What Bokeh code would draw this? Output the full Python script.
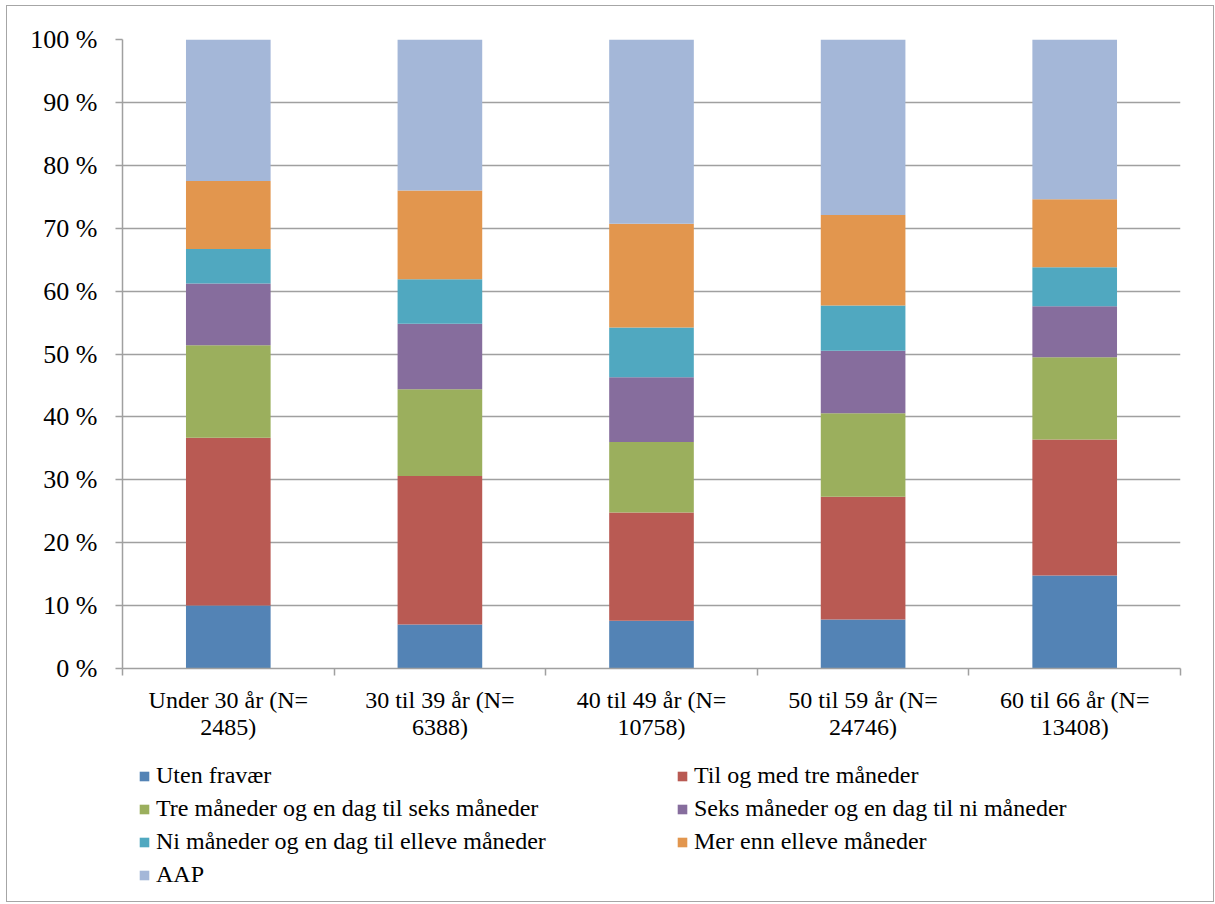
from bokeh.plotting import figure
from bokeh.models import FixedTicker, Legend, LegendItem
from bokeh.layouts import column
from bokeh.embed import file_html
from bokeh.resources import INLINE

categories = ["Under 30 år (N=\n2485)", "30 til 39 år (N=\n6388)", "40 til 49 år (N=\n10758)",
              "50 til 59 år (N=\n24746)", "60 til 66 år (N=\n13408)"]
series_names = ["Uten fravær", "Til og med tre måneder", "Tre måneder og en dag til seks måneder",
                "Seks måneder og en dag til ni måneder", "Ni måneder og en dag til elleve måneder",
                "Mer enn elleve måneder", "AAP"]
uten = [10.0, 7.0, 7.6, 7.8, 14.8]
til_tre = [26.7, 23.6, 17.2, 19.5, 21.6]
tre_seks = [14.7, 13.8, 11.2, 13.3, 13.1]
seks_ni = [9.8, 10.4, 10.3, 9.9, 8.1]
ni_elleve = [5.5, 7.1, 7.9, 7.2, 6.2]
mer_elleve = [10.8, 14.1, 16.5, 14.4, 10.8]
aap = [22.5, 24.0, 29.3, 27.9, 25.4]
y_ticks = [0, 10, 20, 30, 40, 50, 60, 70, 80, 90, 100]
colors = ["#5383B5", "#B95A53", "#9BAF5D", "#866D9D", "#50A8C0", "#E2964E", "#A4B7D8"]

series = [uten, til_tre, tre_seks, seks_ni, ni_elleve, mer_elleve, aap]
xs = [i + 0.5 for i in range(len(categories))]

p = figure(frame_width=1058, frame_height=629, x_range=(0, 5), y_range=(0, 100),
           output_backend="svg", toolbar_location=None,
           min_border_left=115, min_border_right=33, min_border_top=33, min_border_bottom=85)
p.outline_line_color = None
p.xgrid.grid_line_color = None
p.ygrid.grid_line_color = "#a0a0a0"
p.ygrid.grid_line_width = 1.5

bottom = [0.0] * len(xs)
for vals, col in zip(series, colors):
    top = [b + v for b, v in zip(bottom, vals)]
    p.vbar(x=xs, bottom=bottom, top=top, width=0.4, fill_color=col, line_color=None)
    bottom = top

# y axis
p.yaxis.ticker = FixedTicker(ticks=y_ticks, minor_ticks=[])
p.yaxis.major_label_overrides = {t: f"{t} %" for t in y_ticks}
p.yaxis.axis_line_color = "#a0a0a0"
p.yaxis.axis_line_width = 1.5
p.yaxis.major_tick_line_color = "#a0a0a0"
p.yaxis.major_tick_line_width = 1.5
p.yaxis.major_tick_in = 0
p.yaxis.major_tick_out = 7
p.yaxis.major_label_standoff = 18
p.yaxis.major_label_text_font = "Liberation Serif"
p.yaxis.major_label_text_font_size = "26px"
p.yaxis.major_label_text_color = "#000000"

# x axis
p.xaxis.ticker = FixedTicker(ticks=xs, minor_ticks=[0, 1, 2, 3, 4, 5])
p.xaxis.major_label_overrides = {x: c for x, c in zip(xs, categories)}
p.xaxis.axis_line_color = "#a0a0a0"
p.xaxis.axis_line_width = 1.5
p.xaxis.major_tick_line_color = None
p.xaxis.minor_tick_line_color = "#a0a0a0"
p.xaxis.minor_tick_line_width = 1.5
p.xaxis.minor_tick_in = 0
p.xaxis.minor_tick_out = 7
p.xaxis.major_label_standoff = 11
p.xaxis.major_label_text_font = "Liberation Serif"
p.xaxis.major_label_text_font_size = "24px"
p.xaxis.major_label_text_line_height = 1.05
p.xaxis.major_label_text_color = "#000000"

# legend figure (swatches from placeholder bars lying outside its visible range)
pl = figure(width=1206, height=148, x_range=(0, 1), y_range=(0, 1),
            output_backend="svg", toolbar_location=None,
            x_axis_location=None, y_axis_location=None,
            min_border=0, min_border_left=0, min_border_right=0, min_border_top=0, min_border_bottom=0)
pl.outline_line_color = None
pl.border_fill_color = "white"
pl.grid.visible = False
items = []
for n, col in zip(series_names, colors):
    r = pl.vbar(x=[0.5], bottom=[-6], top=[-5], width=0.1, fill_color=col, line_color=None)
    items.append(LegendItem(label=n, renderers=[r]))
legend = Legend(items=items, ncols=2, orientation="horizontal", location=(16, 13),
                glyph_width=12, glyph_height=12, label_standoff=6, spacing=6,
                label_width=514, label_height=25, padding=0, margin=0,
                label_text_font="Liberation Serif", label_text_font_size="24px",
                label_text_color="#000000", border_line_color=None, background_fill_alpha=0)
pl.add_layout(legend, "center")

layout = column(p, pl, spacing=0,
                styles={"border": "1.5px solid #a6a6a6", "margin": "5px 0 0 6px"})

open("out.html", "w").write(file_html(layout, INLINE))
